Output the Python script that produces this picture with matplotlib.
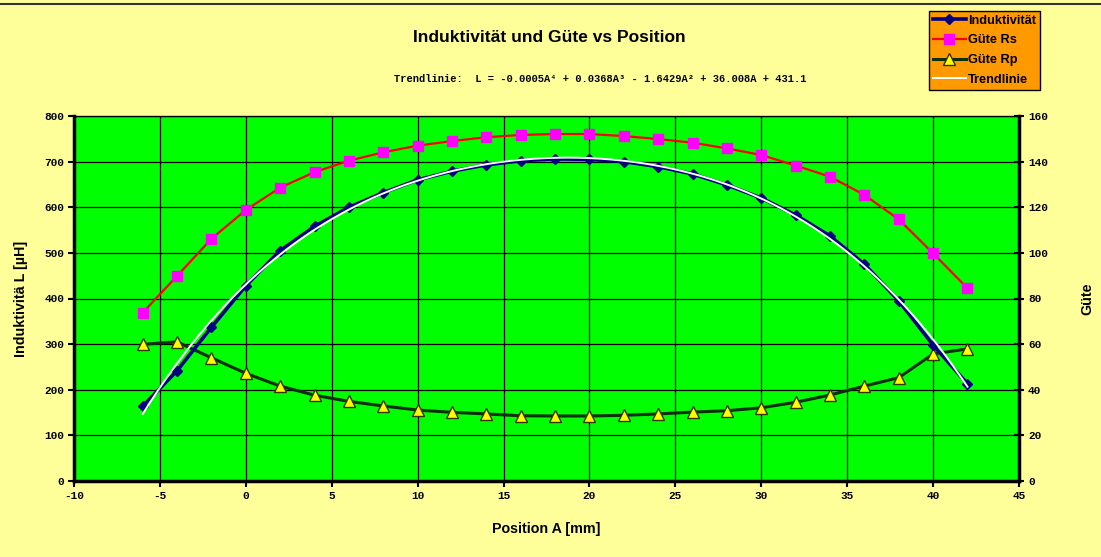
import numpy as np
import matplotlib
matplotlib.use('Agg')
import matplotlib.pyplot as plt
from matplotlib.lines import Line2D

plt.rcParams['axes.unicode_minus'] = False

# Messwerte
position = np.arange(-6, 43, 2)
induktivitaet = [164, 242, 337, 428, 505, 558, 600, 632, 660, 679, 693, 702, 706,
                 705, 700, 689, 673, 649, 620, 583, 537, 475, 395, 298, 213]
guete_rs = [73.8, 89.9, 106.2, 118.8, 128.6, 135.4, 140.4, 144.1, 147.0, 149.0,
            150.7, 151.7, 152.1, 152.1, 151.2, 149.9, 148.3, 145.8, 142.9, 138.3,
            133.4, 125.4, 114.7, 99.8, 84.5]
guete_rp = [59.9, 61.0, 54.0, 47.2, 41.6, 37.6, 34.9, 32.9, 31.1, 30.1, 29.4,
            28.6, 28.5, 28.5, 28.8, 29.4, 30.2, 30.8, 32.1, 34.5, 37.7, 41.6,
            45.3, 55.7, 57.9]

x_ticks = np.arange(-10, 46, 5)
l_ticks = np.arange(0, 801, 100)
q_ticks = np.arange(0, 161, 20)

# Trendlinie wie in Excel: Polynom 4. Ordnung
coef = np.polyfit(position, induktivitaet, 4)
xs = np.linspace(position[0], position[-1], 300)
trend = np.polyval(coef, xs)

mono = ['Liberation Mono', 'DejaVu Sans Mono']
sans = 'Liberation Sans'

fig = plt.figure(figsize=(11.01, 5.57), dpi=100, facecolor='#FFFF99')
rect = [74 / 1101, 1 - 481 / 557, 945 / 1101, 365 / 557]
ax = fig.add_axes(rect)
ax.set_facecolor('#00FF00')
ax.set_xlim(-10, 45)
ax.set_ylim(0, 800)
ax.set_xticks(x_ticks)
ax.set_yticks(l_ticks)
ax.grid(True, color='black', lw=0.9)
ax.set_axisbelow(True)

ax2 = ax.twinx()
ax2.set_ylim(0, 160)
ax2.set_yticks(q_ticks)
ax2.plot(position, guete_rs, color='#FF0000', lw=1.6, marker='s', ms=7.5,
         mfc='#FF00FF', mec='#FF00FF', label='Güte Rs')
ax2.plot(position, guete_rp, color='#0b2e0b', lw=2.2, marker='^', ms=8,
         mfc='#FFFF00', mec='#333300', mew=1.0, label='Güte Rp')

ax3 = ax.twinx()
ax3.set_ylim(0, 800)
ax3.axis('off')
ax3.plot(position, induktivitaet, color='#000080', lw=2.6, marker='D', ms=5.5,
         label='Induktivität')
ax3.plot(xs, trend, color='white', lw=1.4, label='Trendlinie')

for a in (ax, ax2):
    for s in a.spines.values():
        s.set_color('black')
ax.spines['left'].set_linewidth(2.5)
ax.spines['bottom'].set_linewidth(2.5)
ax.spines['top'].set_linewidth(0.9)
ax2.spines['right'].set_linewidth(2.5)

ax.tick_params(axis='both', direction='out', length=4, width=1.5, pad=3)
ax2.tick_params(axis='y', direction='inout', length=7, width=1.5, pad=3)
for lab in ax.get_xticklabels() + ax.get_yticklabels() + ax2.get_yticklabels():
    lab.set_family(mono)
    lab.set_fontweight('bold')
    lab.set_fontsize(8)

ax.set_xlabel('Position A [mm]', family=sans, fontweight='bold', fontsize=10.3)
ax.set_ylabel('Induktivitä L [µH]', family=sans, fontweight='bold', fontsize=10.3)
ax2.set_ylabel('Güte', family=sans, fontweight='bold', fontsize=10.3)
ax.xaxis.set_label_coords(0.5, (481 - 522) / 365)
ax.yaxis.set_label_coords((28 - 74) / 945, 0.5)
ax2.yaxis.set_label_coords((1080 - 74) / 945, 0.5)

fig.text(549 / 1101, 1 - 37 / 557, 'Induktivität und Güte vs Position', ha='center',
         va='center', family=sans, fontweight='bold', fontsize=12.5)
fig.text(600 / 1101, 1 - 79 / 557,
         'Trendlinie:  L = -0.0005A⁴ + 0.0368A³ - 1.6429A² + 36.008A + 431.1',
         ha='center', va='center', family=mono, fontweight='bold', fontsize=7.5)

fig.add_artist(Line2D([0, 1], [1 - 3.5 / 557, 1 - 3.5 / 557], transform=fig.transFigure,
                      color='#333333', lw=1.5))

h3, l3 = ax3.get_legend_handles_labels()
h2, l2 = ax2.get_legend_handles_labels()
handles = [h3[0], h2[0], h2[1], h3[1]]
labels = [l3[0], l2[0], l2[1], l3[1]]
leg = fig.legend(handles, labels, loc='upper left',
                 bbox_to_anchor=(929 / 1101, 1 - 11 / 557), frameon=True,
                 fancybox=False, facecolor='#FF9900', edgecolor='black', framealpha=1,
                 prop={'family': sans, 'weight': 'bold', 'size': 9.2},
                 handlelength=2.6, handletextpad=0.15, labelspacing=0.6,
                 borderpad=0.3, borderaxespad=0)
leg.get_frame().set_linewidth(1.0)

fig.savefig('out.png', dpi=100, facecolor=fig.get_facecolor())
